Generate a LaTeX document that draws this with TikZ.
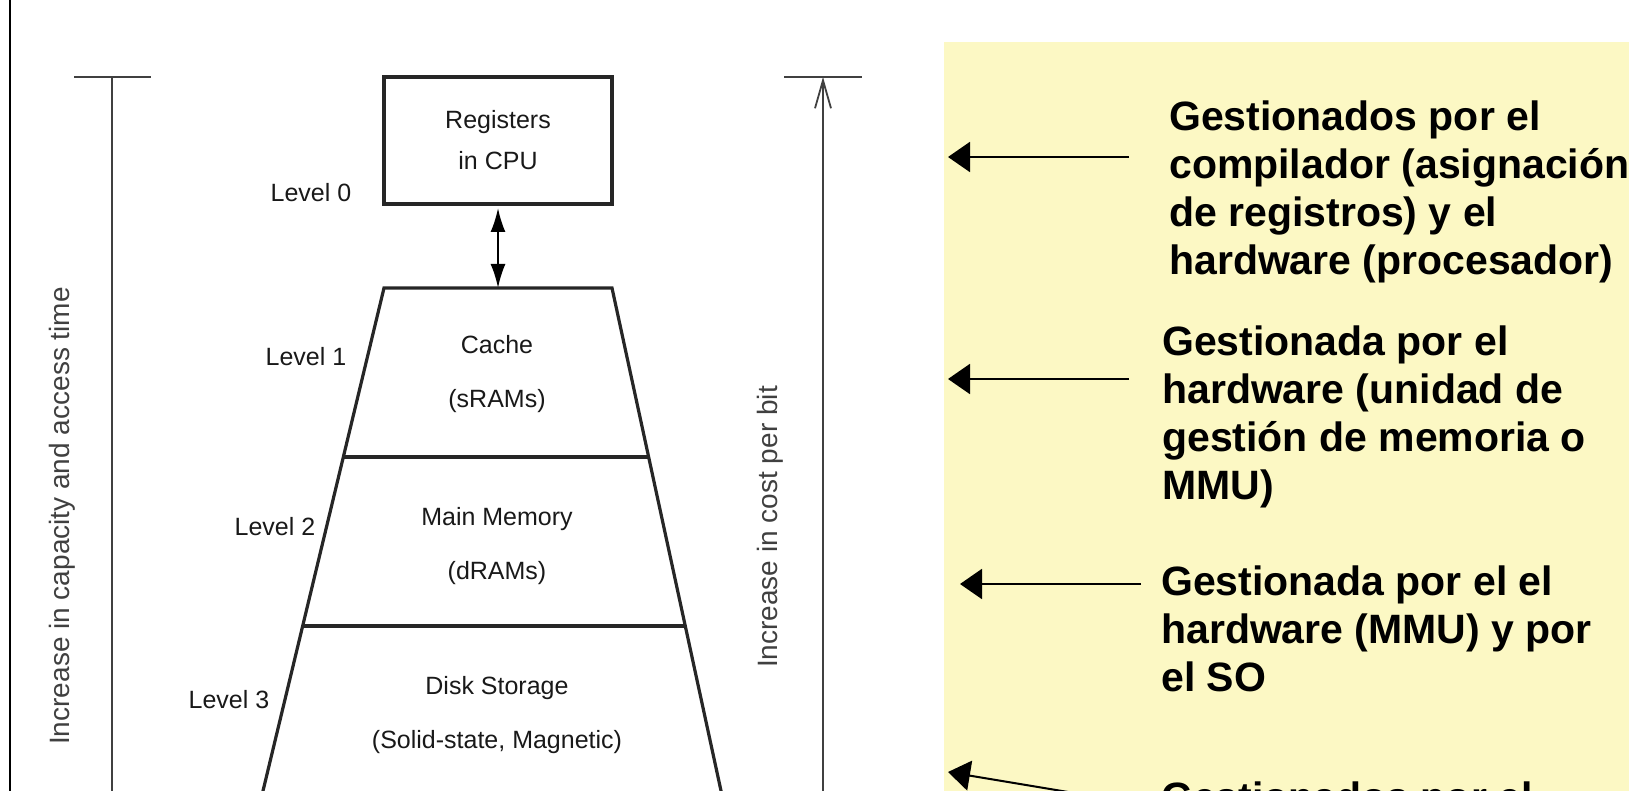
\documentclass[tikz,border=0pt]{standalone}
\usepackage{fontspec}
\setmainfont{Liberation Sans}
\usetikzlibrary{arrows.meta, positioning}
\definecolor{notebg}{HTML}{FCF8C4}

\begin{document}
\begin{tikzpicture}[x=1pt, y=-1pt,
	level/.style={font=\fontsize{25}{30}\selectfont, text=black!90},
	mem/.style={font=\fontsize{25}{54}\selectfont, text=black!90, align=center},
	axis/.style={font=\fontsize{28}{32}\selectfont, text=black!75, rotate=90, inner sep=0},
	note/.style={font=\fontsize{41}{48}\selectfont\bfseries, align=left, anchor=north west, inner sep=0},
	wall/.style={line width=3.2pt, black!85},
	dim/.style={line width=1.8pt, black!75},
	ptr/.style={line width=2pt, -{Triangle[length=22pt, width=30pt]}}]

	\useasboundingbox (0,0) rectangle (1629,791);
	\clip (0,0) rectangle (1629,791);

	% yellow panel and left border
	\fill[notebg] (944,42) rectangle (1629,791);
	\draw[line width=2pt] (10,-5) -- (10,800);

	% memory hierarchy
	\node[draw=black!85, line width=4pt, minimum width=228, minimum height=127, inner sep=0,
		font=\fontsize{25}{41}\selectfont, text=black!90, align=center] (regs) at (498,140.5) {Registers\\in CPU};

	\coordinate (c0l) at (384,288);
	\coordinate (c0r) at (612,288);
	\coordinate (c1l) at (343.3,457);
	\coordinate (c1r) at (648.6,457);
	\coordinate (c2l) at (302.6,626);
	\coordinate (c2r) at (685.2,626);
	\coordinate (c3l) at (260.8,800);
	\coordinate (c3r) at (723,800);

	\draw[wall] (c3l) -- (c0l) -- (c0r) -- (c3r);
	\draw[wall, line width=4pt] (c1l) -- (c1r);
	\draw[wall, line width=4pt] (c2l) -- (c2r);

	\draw[line width=2pt, {Latex[length=24pt, width=15pt]}-{Latex[length=24pt, width=15pt]},
		shorten <=2pt] (regs.south) -- (regs.south |- c0l);

	\node[mem] (cache)	at (497,374)	{Cache\\(sRAMs)};
	\node[mem] (dram)	at (497,546)	{Main Memory\\(dRAMs)};
	\node[mem] (disk)	at (497,715.5)	{Disk Storage\\(Solid-state, Magnetic)};

	\node[level] (lv0) at (311,193) {Level 0};
	\node[level] (lv1) at (306,357) {Level 1};
	\node[level] (lv2) at (275,527) {Level 2};
	\node[level] (lv3) at (229,700) {Level 3};

	% axes
	\coordinate (capTop) at (112,77);
	\coordinate (capBot) at (112,800);
	\coordinate (costTop) at (823,77);
	\coordinate (costBot) at (823,800);
	\draw[dim] (74,77) -- (151,77);
	\draw[dim] (capTop) -- (capBot);
	\draw[dim] (784,77) -- (862,77);
	\draw[dim, -{Straight Barb[length=28pt, width=16pt]}] (costBot) -- (costTop);

	\node[axis] (capac)	at (62,516)	{Increase in capacity and access time};
	\node[axis] (cost)	at (770,527)	{Increase in cost per bit};

	% notes
	\node[note] (n1) at (1169,101) {Gestionados por el\\compilador (asignación\\de registros) y el\\hardware (procesador)};
	\node[note] (n2) at (1162,326) {Gestionada por el\\hardware (unidad de\\gestión de memoria o\\MMU)};
	\node[note] (n3) at (1161,566) {Gestionada por el el\\hardware (MMU) y por\\el SO};
	\node[note] (n4) at (1161,782) {Gestionados por el};

	\coordinate (h1) at (948,157);
	\coordinate (t1) at (1129,157);
	\coordinate (h2) at (948,379);
	\coordinate (t2) at (1129,379);
	\coordinate (h3) at (960,584);
	\coordinate (t3) at (1141,584);
	\coordinate (h4) at (948,772);
	\coordinate (t4) at (1110,799);

	\draw[ptr] (t1) -- (h1);
	\draw[ptr] (t2) -- (h2);
	\draw[ptr] (t3) -- (h3);
	\draw[ptr] (t4) -- (h4);

\end{tikzpicture}
\end{document}
